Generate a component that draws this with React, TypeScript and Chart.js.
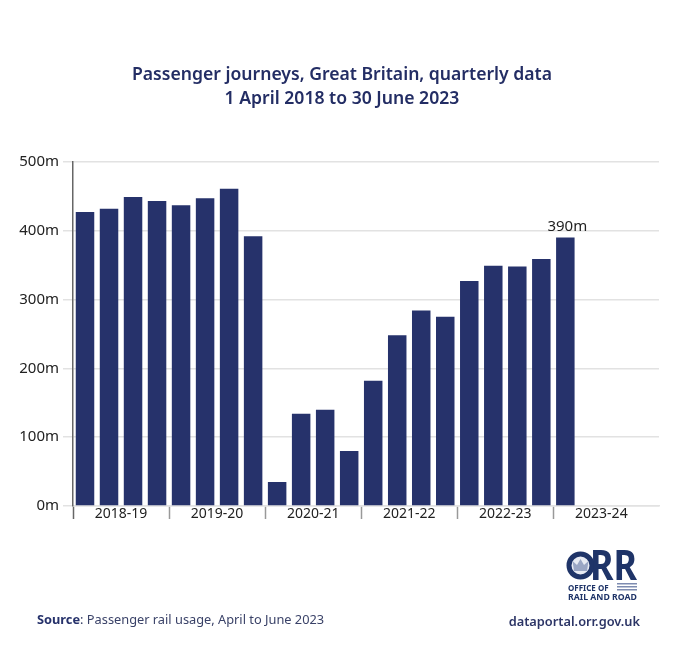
import React, { useEffect, useRef } from 'react';
import { Chart, registerables } from 'chart.js';

Chart.register(...registerables);

const NAVY = '#26326b';
const FONT = '"Noto Sans", sans-serif';

const years = ['2018-19', '2019-20', '2020-21', '2021-22', '2022-23', '2023-24'];
const journeys = [
  427, 432, 449, 443, 437, 447, 461, 392,
  35, 134, 140, 80, 182, 248, 284, 275,
  327, 349, 348, 359, 390,
];
const yTicks = [0, 100, 200, 300, 400, 500];
const lastLabel = '390m';

// writes the value over the newest bar only
const lastBarLabel = {
  id: 'lastBarLabel',
  afterDatasetsDraw(chart: any) {
    const bars = chart.getDatasetMeta(0).data;
    const bar = bars[bars.length - 1];
    const { ctx } = chart;
    ctx.save();
    ctx.font = `15px ${FONT}`;
    ctx.fillStyle = '#222';
    ctx.textAlign = 'center';
    ctx.textBaseline = 'bottom';
    ctx.fillText(lastLabel, bar.x + 2, bar.y - 3);
    ctx.restore();
  },
};

const App = () => {
  const chartRef = useRef<HTMLCanvasElement>(null);

  useEffect(() => {
    document.body.style.margin = '0';
    if (!chartRef.current) return;
    const chart = new Chart(chartRef.current, {
      type: 'bar',
      data: {
        datasets: [
          {
            data: journeys.map((y, i) => ({ x: i + 0.5, y })),
            backgroundColor: NAVY,
            categoryPercentage: 1,
            barPercentage: 0.77,
          },
        ],
      },
      plugins: [lastBarLabel],
      options: {
        animation: false,
        responsive: false,
        devicePixelRatio: 1,
        layout: { padding: { left: 4, bottom: 125 } },
        plugins: {
          legend: { display: false },
          tooltip: { enabled: false },
          title: {
            display: true,
            text: ['Passenger journeys, Great Britain, quarterly data', '1 April 2018 to 30 June 2023'],
            color: '#232d64',
            font: { family: FONT, size: 17.6, weight: 600, lineHeight: 1.36 },
            padding: { top: 63, bottom: 51 },
          },
        },
        scales: {
          x: {
            type: 'linear',
            offset: false,
            min: 0,
            max: 24.4,
            afterFit: (scale: any) => { scale.height = 34; },
            grid: {
              offset: false,
              drawOnChartArea: false,
              tickLength: 13,
              tickWidth: 1.5,
              tickColor: (ctx: any) => {
                const v = ctx.tick?.value;
                if (v === 0) return '#666';
                return v % 4 === 0 && v < 24 ? '#999' : 'rgba(0,0,0,0)';
              },
            },
            border: { color: '#e2e2e2', width: 1.5 },
            ticks: {
              stepSize: 2,
              includeBounds: false,
              autoSkip: false,
              maxRotation: 0,
              padding: -13,
              color: '#222',
              font: { family: FONT, size: 14 },
              callback: (v: any) => (v % 4 === 2 ? years[(v - 2) / 4] : ''),
            },
          },
          y: {
            min: 0,
            max: 500,
            afterFit: (scale: any) => { scale.width = 69; },
            afterBuildTicks: (scale: any) => { scale.ticks = yTicks.map((value) => ({ value })); },
            grid: { color: '#e2e2e2', lineWidth: 1.5, tickLength: 10, tickColor: '#e2e2e2' },
            border: { color: '#666', width: 1.5 },
            ticks: {
              padding: 4,
              color: '#222',
              font: { family: FONT, size: 15 },
              callback: (v: any) => `${v}m`,
            },
          },
          // empty right axis: keeps the plot short of the edge while the title stays centred on the page
          yRight: {
            position: 'right',
            afterFit: (scale: any) => { scale.width = 21; },
            grid: { display: false, drawTicks: false },
            border: { display: false },
            ticks: { display: false },
          },
        },
      },
    });
    return () => chart.destroy();
  }, []);

  return (
    <div style={{ position: 'absolute', left: 0, top: 0, width: 680, height: 665, background: '#fff', fontFamily: FONT }}>
      <canvas ref={chartRef} width={680} height={665} style={{ display: 'block' }} />
      <div style={{ position: 'absolute', left: 37, top: 610, fontSize: 12.8, color: '#3a4268' }}>
        <b style={{ color: NAVY }}>Source</b>: Passenger rail usage, April to June 2023
      </div>
      <div style={{ position: 'absolute', right: 40, top: 612, fontSize: 12.8, fontWeight: 600, color: '#2c3566' }}>
        dataportal.orr.gov.uk
      </div>
      <svg width={680} height={665} style={{ position: 'absolute', left: 0, top: 0, pointerEvents: 'none' }}>
        <circle cx={580.5} cy={565.5} r={11.5} fill="#e8ebf3" stroke="#1f3468" strokeWidth={5} />
        <path d="M574 571 L572.5 561 L577 565 L580.5 559 L584 565 L588.5 561 L587 571 Z" fill="#9aa6c4" />
        <text x={590} y={580} fontFamily={FONT} fontWeight={700} fontSize={41} fill="#1f3468" textLength={47} lengthAdjust="spacingAndGlyphs">RR</text>
        <text x={568} y={591} fontFamily={FONT} fontWeight={700} fontSize={8} fill="#1f3468">OFFICE OF</text>
        <text x={568} y={600} fontFamily={FONT} fontWeight={700} fontSize={8} fill="#1f3468" textLength={69} lengthAdjust="spacingAndGlyphs">RAIL AND ROAD</text>
        <rect x={617} y={583} width={20} height={1.5} fill="#7d8bb0" />
        <rect x={617} y={586} width={20} height={1.5} fill="#7d8bb0" />
        <rect x={617} y={589} width={20} height={1.5} fill="#7d8bb0" />
      </svg>
    </div>
  );
};

export default App;
